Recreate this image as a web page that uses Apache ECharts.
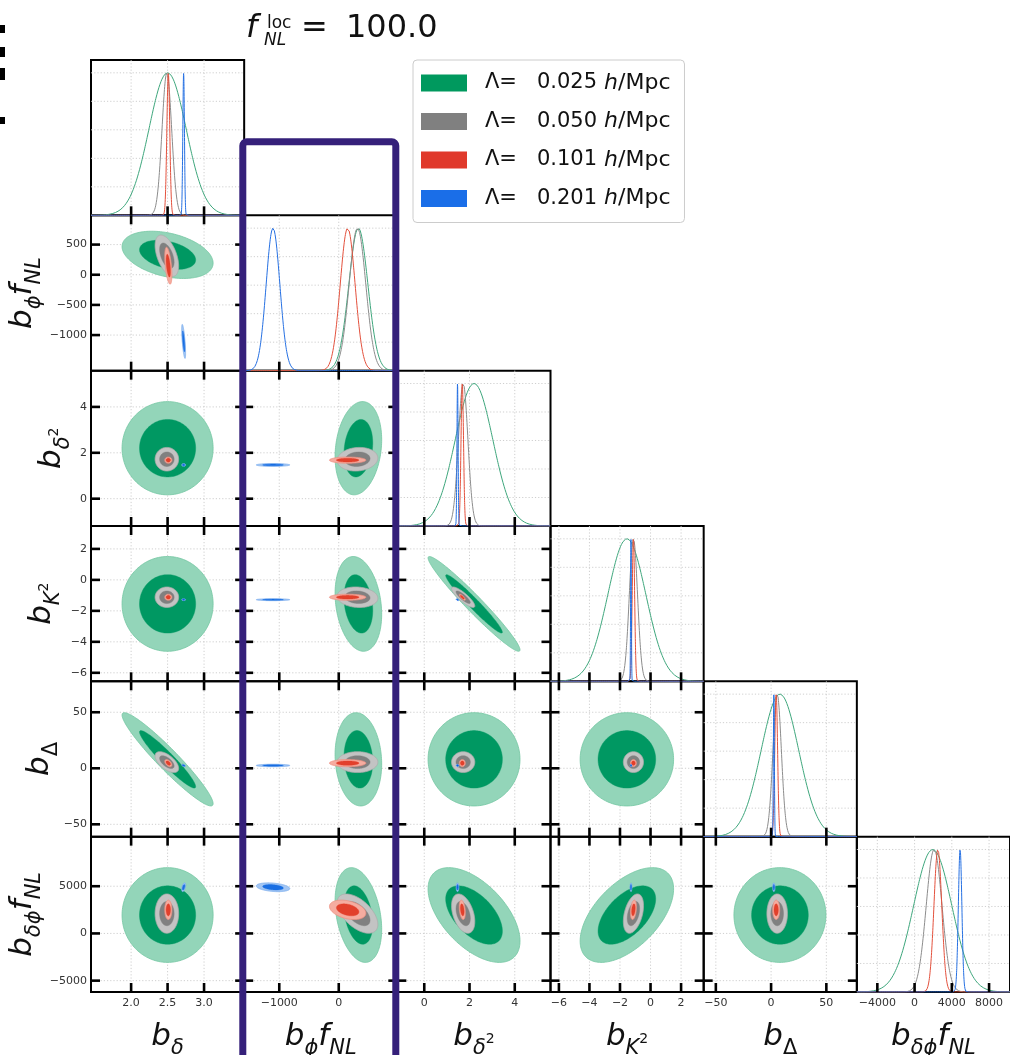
<!DOCTYPE html>
<html>
<head>
<meta charset="utf-8">
<script src="https://cdn.jsdelivr.net/npm/echarts@6/dist/echarts.min.js"></script>
<style>
  html, body { margin: 0; padding: 0; background: #ffffff; }
  #chart { width: 1010px; height: 1055px; }
</style>
</head>
<body>
<div id="chart"></div>
<script>
// ---- Fisher forecast for the bias parameters, f_NL^loc = 100, four k-cutoffs ----
const lambdaNames = ['0.025', '0.050', '0.101', '0.201'];

// parameter order: b_delta, b_phi f_NL, b_delta^2, b_K^2, b_Delta, b_deltaphi f_NL
const paramLabels = [
  '{b|b}{s|δ}',
  '{b|b}{s|ϕ}{b|f}{s|NL}',
  '{b|b}{s|δ}{p|2}',
  '{b|b}{s|K}{p|2}',
  '{b|b}{u|Δ}',
  '{b|b}{s|δϕ}{b|f}{s|NL}'
];

// plotted range of every parameter
const axisMin = [1.45, -1590, -1.19, -6.55, -61, -6200];
const axisMax = [3.55, 985, 5.58, 3.48, 77.6, 10250];

// tick values (x = bottom row, y = left column)
const xTickValues = [[2.0, 2.5, 3.0], [-1000, 0], [0, 2, 4], [-6, -4, -2, 0, 2], [-50, 0, 50], [-4000, 0, 4000, 8000]];
const yTickValues = [[], [-1000, -500, 0, 500], [0, 2, 4], [-6, -4, -2, 0, 2], [-50, 0, 50], [-5000, 0, 5000]];
const tickDecimals = [1, 0, 0, 0, 0, 0];
const pdfGridValues = [0.2, 0.4, 0.6, 0.8, 1.0];
const pdfMax = 1.09;

// fiducial centres
const mean_0025 = [2.50, 330, 2.20, -1.55, 8.0, 1950];
const mean_0050 = [2.49, 315, 1.72, -1.12, 5.5, 2100];
const mean_0101 = [2.51, 150, 1.68, -1.12, 4.6, 2500];
const mean_0201 = [2.72, -1105, 1.47, -1.28, 2.5, 4890];

// marginal 1-sigma errors
const sigma_0025 = [0.255, 160, 0.83, 1.25, 17.0, 2050];
const sigma_0050 = [0.066, 140, 0.21, 0.27, 3.8, 850];
const sigma_0101 = [0.020, 125, 0.055, 0.08, 1.3, 420];
const sigma_0201 = [0.011, 115, 0.025, 0.025, 0.45, 190];

// correlation coefficients, pairs (row,col):
// (1,0) (2,0) (2,1) (3,0) (3,1) (3,2) (4,0) (4,1) (4,2) (4,3) (5,0) (5,1) (5,2) (5,3) (5,4)
const corr_0025 = [-0.35, 0, 0.18, 0, -0.22, -0.97, -0.95, -0.1, 0, 0, 0, -0.3, -0.55, 0.55, 0];
const corr_0050 = [-0.5, 0, 0.1, 0, -0.1, -0.85, -0.6, 0, 0, 0, 0, -0.55, -0.4, 0.4, 0];
const corr_0101 = [-0.5, 0, 0, 0, 0, -0.8, -0.5, 0, 0, 0, 0, -0.35, -0.3, 0.3, 0];
const corr_0201 = [-0.7, 0, 0, 0, 0, -0.5, -0.5, 0, 0, 0, 0.5, -0.3, 0, 0, 0];

const means = [mean_0025, mean_0050, mean_0101, mean_0201];
const sigmas = [sigma_0025, sigma_0050, sigma_0101, sigma_0201];
const corrs = [corr_0025, corr_0050, corr_0101, corr_0201];

// ---- styling ----
const fillDark = ['#009862', '#808080', '#e2402c', '#1a6fe3'];
const fillLight = ['#93d5b9', '#c3c3c3', '#f5aca0', '#a3c6f3'];
const edgeLight = ['#74c6a2', '#acacac', '#ee8f80', '#7eaeee'];
const lineColors = ['#3ea67c', '#8c8c8c', '#e3503c', '#2670e2'];
const legendColors = ['#00995e', '#808080', '#e0392b', '#1a6ee8'];
const yNameGap = [0, 46, 17, 27, 29, 46];

// 68% and 95% contour radii of a 2D Gaussian
const R68 = Math.sqrt(-2 * Math.log(0.32));
const R95 = Math.sqrt(-2 * Math.log(0.05));

const N = 6;
const cellW = 153.17, cellH = 155.33, left0 = 91, top0 = 60;
const FONT = 'DejaVu Sans';
const TICK_LEN = 9, TICK_W = 2.6;

const axisRich = {
  b: { fontFamily: FONT, fontStyle: 'italic', fontSize: 31, color: '#111', verticalAlign: 'bottom', lineHeight: 33, padding: [0, 0, 7, 0] },
  s: { fontFamily: FONT, fontStyle: 'italic', fontSize: 21, color: '#111', verticalAlign: 'bottom', lineHeight: 23 },
  u: { fontFamily: FONT, fontStyle: 'normal', fontSize: 21, color: '#111', verticalAlign: 'bottom', lineHeight: 23 },
  p: { fontFamily: FONT, fontStyle: 'normal', fontSize: 14, color: '#111', verticalAlign: 'bottom', lineHeight: 15, padding: [0, 0, 13, 0] }
};

function tickFormatter(p) {
  return function (v) {
    const s = tickDecimals[p] ? v.toFixed(tickDecimals[p]) : String(Math.round(v));
    return s.replace('-', '\u2212');
  };
}

const labelStyle = { color: '#333', fontSize: 11, fontFamily: FONT };

const grids = [], xAxes = [], yAxes = [], ellipseSeries = [], curveSeries = [];
const panels = [];
const xMain = {}, yMain = {};

for (let r = 0; r < N; r++) {
  for (let c = 0; c <= r; c++) {
    const g = grids.length;
    const diag = r === c;
    const gl = left0 + c * cellW, gt = top0 + r * cellH;
    grids.push({
      left: gl, top: gt, width: cellW, height: cellH,
      show: true, borderColor: '#000', borderWidth: 2, backgroundColor: 'transparent',
      outerBoundsMode: 'none', containLabel: false
    });
    const xi = xAxes.length;
    xMain[r + ',' + c] = xi;
    xAxes.push({
      type: 'value', gridIndex: g, min: axisMin[c], max: axisMax[c], position: 'bottom',
      axisLine: { show: false, onZero: false },
      axisTick: { show: false },
      axisLabel: Object.assign({ show: r === N - 1, customValues: xTickValues[c], formatter: tickFormatter(c), margin: 6 }, labelStyle),
      splitLine: { show: false },
      name: r === N - 1 ? paramLabels[c] : '', nameLocation: 'middle', nameGap: 34, nameMoveOverlap: false,
      nameTextStyle: { rich: axisRich }
    });
    const yi = yAxes.length;
    yMain[r + ',' + c] = yi;
    if (diag) {
      yAxes.push({
        type: 'value', gridIndex: g, min: 0, max: pdfMax, position: 'left',
        axisLine: { show: false, onZero: false }, axisTick: { show: false }, axisLabel: { show: false }, splitLine: { show: false }
      });
    } else {
      yAxes.push({
        type: 'value', gridIndex: g, min: axisMin[r], max: axisMax[r], position: 'left',
        axisLine: { show: false, onZero: false },
        axisTick: { show: false },
        axisLabel: Object.assign({ show: c === 0, customValues: yTickValues[r], formatter: tickFormatter(r), margin: 4 }, labelStyle),
        splitLine: { show: false },
        name: c === 0 ? paramLabels[r] : '', nameLocation: 'middle', nameRotate: 90,
        nameGap: yNameGap[r], nameMoveOverlap: false,
        nameTextStyle: { rich: axisRich }
      });
    }
    panels.push({ xi: xi, yi: yi, diag: diag, r: r, c: c, left: gl, top: gt });
  }
}

// filled 68% / 95% ellipses
function ellipseRenderer(k) {
  return function (params, api) {
    const mx = api.value(0), my = api.value(1), sx = api.value(2), sy = api.value(3);
    const rho = api.value(4), rad = api.value(5), level = api.value(6);
    const q = Math.sqrt(1 - rho * rho);
    const pts = [];
    for (let i = 0; i < 160; i++) {
      const t = 2 * Math.PI * i / 160;
      const x = mx + rad * sx * Math.cos(t);
      const y = my + rad * sy * (rho * Math.cos(t) + q * Math.sin(t));
      pts.push(api.coord([x, y]));
    }
    const style = level === 0
      ? { fill: fillLight[k], stroke: edgeLight[k], lineWidth: 0.8 }
      : { fill: fillDark[k], stroke: fillDark[k], lineWidth: 0.4 };
    return { type: 'polygon', shape: { points: pts }, style: style };
  };
}

let pair = 0;
for (let r = 1; r < N; r++) {
  for (let c = 0; c < r; c++) {
    for (let k = 0; k < 4; k++) {
      const m = means[k], s = sigmas[k], rho = corrs[k][pair];
      ellipseSeries.push({
        type: 'custom', name: lambdaNames[k], z: 2,
        xAxisIndex: xMain[r + ',' + c], yAxisIndex: yMain[r + ',' + c],
        itemStyle: { color: fillDark[k] },
        encode: { x: 0, y: 1 },
        data: [
          [m[c], m[r], s[c], s[r], rho, R95, 0],
          [m[c], m[r], s[c], s[r], rho, R68, 1]
        ],
        renderItem: ellipseRenderer(k),
        silent: true, animation: false
      });
    }
    pair++;
  }
}

// 1D marginals on the diagonal (peak normalised to 1)
for (let p = 0; p < N; p++) {
  for (let k = 0; k < 4; k++) {
    const mu = means[k][p], sd = sigmas[k][p];
    const xs = [];
    for (let i = 0; i <= 300; i++) xs.push(axisMin[p] + (axisMax[p] - axisMin[p]) * i / 300);
    for (let t = -6; t <= 6.0001; t += 0.05) xs.push(mu + t * sd);
    xs.sort((a, b) => a - b);
    const pts = xs.filter(x => x >= axisMin[p] && x <= axisMax[p])
      .map(x => [x, Math.exp(-0.5 * Math.pow((x - mu) / sd, 2))]);
    curveSeries.push({
      type: 'line', z: 2, xAxisIndex: xMain[p + ',' + p], yAxisIndex: yMain[p + ',' + p],
      data: pts, showSymbol: false, symbol: 'none', smooth: false,
      lineStyle: { color: lineColors[k], width: 1 },
      silent: true, animation: false, clip: true
    });
  }
}

const legendRich = {
  t: { fontFamily: FONT, fontSize: 21, color: '#111', padding: [0, 0, 0, 13] },
  v: { fontFamily: FONT, fontSize: 21, color: '#111', padding: [0, 0, 0, 20] },
  i: { fontFamily: FONT, fontSize: 22, fontStyle: 'italic', color: '#111', padding: [0, 0, 0, 7] },
  m: { fontFamily: FONT, fontSize: 22, color: '#111' }
};

const baseGraphics = [
  // title
  { type: 'text', x: 246, y: 29, z: 60, style: { text: 'f', font: 'italic 32px "DejaVu Sans"', fill: '#111', verticalAlign: 'middle', textVerticalAlign: 'middle' } },
  { type: 'text', x: 267, y: 23.5, z: 60, style: { text: 'loc', font: '17px "DejaVu Sans"', fill: '#111', verticalAlign: 'middle', textVerticalAlign: 'middle' } },
  { type: 'text', x: 264, y: 41, z: 60, style: { text: 'NL', font: 'italic 17px "DejaVu Sans"', fill: '#111', verticalAlign: 'middle', textVerticalAlign: 'middle' } },
  { type: 'text', x: 301, y: 29, z: 60, style: { text: '=', font: '32px "DejaVu Sans"', fill: '#111', verticalAlign: 'middle', textVerticalAlign: 'middle' } },
  { type: 'text', x: 346, y: 29, z: 60, style: { text: '100.0', font: '32px "DejaVu Sans"', fill: '#111', verticalAlign: 'middle', textVerticalAlign: 'middle' } },
  // marks on the left edge
  { type: 'rect', z: 60, shape: { x: 0, y: 25, width: 5, height: 8 }, style: { fill: '#000' } },
  { type: 'rect', z: 60, shape: { x: 0, y: 47, width: 5, height: 10 }, style: { fill: '#000' } },
  { type: 'rect', z: 60, shape: { x: 0, y: 68, width: 5, height: 12 }, style: { fill: '#000' } },
  { type: 'rect', z: 60, shape: { x: 0, y: 117, width: 5, height: 7 }, style: { fill: '#000' } }
];
// highlight frame around the b_phi f_NL column
const frameGraphic = { type: 'rect', z: 100, shape: { x: 242.8, y: 141.8, width: 153, height: 1000, r: 4 }, style: { fill: 'none', stroke: '#35207a', lineWidth: 7 } };

const option = {
  backgroundColor: '#ffffff',
  animation: false,
  grid: grids,
  xAxis: xAxes,
  yAxis: yAxes,
  legend: {
    data: lambdaNames.map((n, k) => ({ name: n, itemStyle: { color: legendColors[k] } })),
    orient: 'vertical', left: 413, top: 60,
    icon: 'rect', itemWidth: 46, itemHeight: 17, itemGap: 16.5,
    padding: [12, 14, 13, 8],
    backgroundColor: '#ffffff', borderColor: '#cccccc', borderWidth: 1, borderRadius: 4,
    selectedMode: false,
    formatter: n => '{t|Λ=}{v|' + n + '}{i|h}{m|/Mpc}',
    textStyle: { rich: legendRich, lineHeight: 22 },
    z: 50
  },
  series: ellipseSeries.concat(curveSeries)
};

const chart = echarts.init(document.getElementById('chart'), null, { renderer: 'canvas', width: 1010, height: 1055 });
chart.setOption(option);

// dotted grid lines and inward tick marks, positioned through each panel's own axes
const GRID_STYLE = { stroke: '#c9c9c9', lineWidth: 0.9, lineDash: [1.2, 2] };
const frameGraphics = [];
panels.forEach(pn => {
  const bottom = pn.top + cellH, right = pn.left + cellW;
  const hVals = pn.diag ? pdfGridValues : yTickValues[pn.r];
  xTickValues[pn.c].forEach(v => {
    const px = chart.convertToPixel({ xAxisIndex: pn.xi }, v);
    frameGraphics.push({ type: 'line', z: 1, silent: true, shape: { x1: px, y1: pn.top, x2: px, y2: bottom }, style: GRID_STYLE });
    frameGraphics.push({ type: 'line', z: 80, silent: true, shape: { x1: px, y1: bottom, x2: px, y2: bottom - TICK_LEN }, style: { stroke: '#000', lineWidth: TICK_W } });
    if (!pn.diag) {
      frameGraphics.push({ type: 'line', z: 80, silent: true, shape: { x1: px, y1: pn.top, x2: px, y2: pn.top + TICK_LEN }, style: { stroke: '#000', lineWidth: TICK_W } });
    }
  });
  hVals.forEach(v => {
    const py = chart.convertToPixel({ yAxisIndex: pn.yi }, v);
    frameGraphics.push({ type: 'line', z: 1, silent: true, shape: { x1: pn.left, y1: py, x2: right, y2: py }, style: GRID_STYLE });
    if (!pn.diag) {
      frameGraphics.push({ type: 'line', z: 80, silent: true, shape: { x1: pn.left, y1: py, x2: pn.left + TICK_LEN, y2: py }, style: { stroke: '#000', lineWidth: TICK_W } });
      frameGraphics.push({ type: 'line', z: 80, silent: true, shape: { x1: right, y1: py, x2: right - TICK_LEN, y2: py }, style: { stroke: '#000', lineWidth: TICK_W } });
    }
  });
});

chart.setOption({ graphic: { elements: baseGraphics.concat(frameGraphics, [frameGraphic]) } });
</script>
</body>
</html>
